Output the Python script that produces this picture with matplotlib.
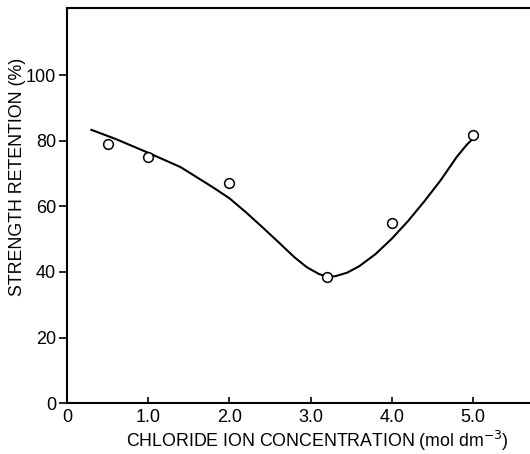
import numpy as np
import matplotlib
matplotlib.use("Agg")
import matplotlib.pyplot as plt

plt.rcParams['font.family'] = ['Liberation Sans', 'DejaVu Sans']

# measured points
conc = [0.5, 1.0, 2.0, 3.2, 4.0, 5.0]
retention = [79.2, 75.0, 67.2, 38.5, 55.0, 81.8]

# hand-drawn trend curve
curve_x = [0.3, 0.6, 1.0, 1.4, 1.8, 2.0, 2.2, 2.4, 2.6, 2.8, 2.95, 3.1, 3.2,
           3.3, 3.45, 3.6, 3.8, 4.0, 4.2, 4.4, 4.6, 4.8, 4.92, 5.0]
curve_y = [83.4, 80.6, 76.4, 72.0, 65.8, 62.5, 58.3, 53.8, 49.2, 44.5, 41.5, 39.4, 38.6,
           38.7, 39.8, 41.8, 45.5, 50.2, 55.6, 61.6, 68.0, 75.2, 78.8, 80.8]

xticks = [0, 1, 2, 3, 4, 5]
xticklabels = ["0", "1.0", "2.0", "3.0", "4.0", "5.0"]
yticks = [0, 20, 40, 60, 80, 100]

fig = plt.figure(figsize=(5.3, 4.54), dpi=100)
ax = fig.add_axes([0.1264, 0.1123, 0.8736, 0.8701])

ax.plot(curve_x, curve_y, color='black', lw=1.5, zorder=2)
ax.plot(conc, retention, 'o', mfc='white', mec='black', ms=7, mew=1.1, zorder=3)

ax.set_xlim(0, 5.70)
ax.set_ylim(0, 120.6)
ax.set_xticks(xticks)
ax.set_xticklabels(xticklabels)
ax.set_yticks(yticks)

ax.spines['right'].set_visible(False)
for s in ['left', 'bottom', 'top']:
    ax.spines[s].set_linewidth(1.5)

ax.tick_params(axis='x', direction='in', length=4, width=1.2, labelsize=13, pad=4)
ax.tick_params(axis='y', direction='out', length=6, width=1.2, labelsize=13, pad=2)

ax.set_xlabel("CHLORIDE ION CONCENTRATION (mol dm$^{-3}$)", fontsize=12.8)
ax.xaxis.set_label_coords(0.54, -0.066)
ax.set_ylabel("STRENGTH RETENTION (%)", fontsize=12.8)
ax.yaxis.set_label_coords(-0.088, 0.572)

fig.savefig("out.png", dpi=100)
